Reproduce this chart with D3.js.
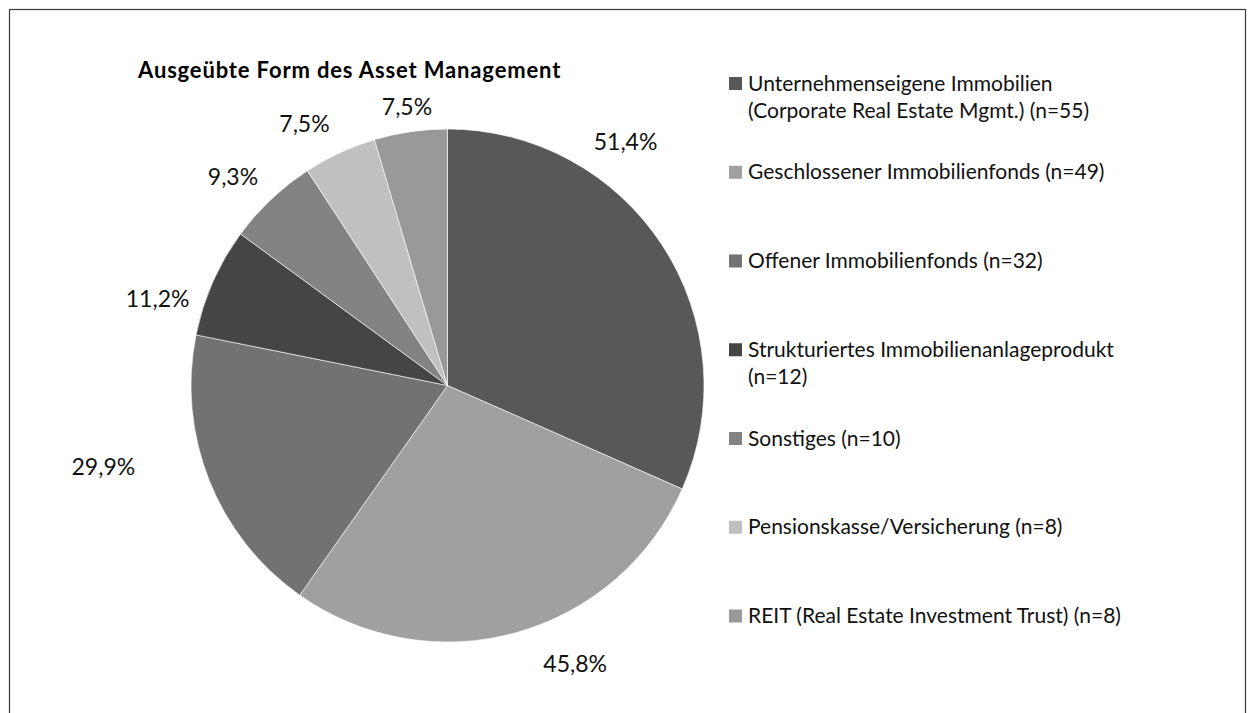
<!DOCTYPE html>
<html>
<head>
<meta charset="utf-8">
<script src="https://cdn.jsdelivr.net/npm/d3@7"></script>
<style>
  body { margin: 0; background: #fff; }
  svg { display: block; font-family: Lato, "Open Sans", sans-serif; }
</style>
</head>
<body>
<svg id="chart"></svg>
<script>
// data
const categories = [
  'Unternehmenseigene Immobilien|(Corporate Real Estate Mgmt.) (n=55)',
  'Geschlossener Immobilienfonds (n=49)',
  'Offener Immobilienfonds (n=32)',
  'Strukturiertes Immobilienanlageprodukt|(n=12)',
  'Sonstiges (n=10)',
  'Pensionskasse/Versicherung (n=8)',
  'REIT (Real Estate Investment Trust) (n=8)'
];
const counts = [55, 49, 32, 12, 10, 8, 8];
const percentLabels = ['51,4%', '45,8%', '29,9%', '11,2%', '9,3%', '7,5%', '7,5%'];
const colors = ['#585858', '#a0a0a0', '#727272', '#454545', '#838383', '#c0c0c0', '#999999'];

const width = 1251;
const height = 713;
const cx = 447.5;
const cy = 385.5;
const radius = 256.5;

// label placement like excel's "best fit": angle shift (deg) and distance beyond the rim
const labelNudge = [[-20.7, 45], [-9.1, 50], [8.5, 97], [-7.2, 46], [-2.3, 43], [-3.8, 42], [0, 25]];

const svg = d3.select('#chart').attr('width', width).attr('height', height);

// outer frame, bottom edge runs off the picture
svg.append('rect')
  .attr('x', 9.5).attr('y', 9.5)
  .attr('width', 1236).attr('height', 720)
  .attr('fill', 'none')
  .attr('stroke', '#3a3a3a')
  .attr('stroke-width', 1.2);

svg.append('text')
  .attr('x', 138)
  .attr('y', 78)
  .style('font-weight', 'bold')
  .style('font-size', '22px')
  .style('letter-spacing', '0.85px')
  .attr('fill', '#000')
  .text('Ausgeübte Form des Asset Management');

const pie = d3.pie().sort(null).value((d) => d);
const arcs = pie(counts);
const arc = d3.arc().innerRadius(0).outerRadius(radius);

const g = svg.append('g').attr('transform', 'translate(' + cx + ',' + cy + ')');

g.selectAll('path')
  .data(arcs)
  .enter()
  .append('path')
  .attr('d', arc)
  .attr('fill', (d, i) => colors[i])
  .attr('stroke', '#fff')
  .attr('stroke-width', 0.6);

g.selectAll('.pct')
  .data(arcs)
  .enter()
  .append('text')
  .attr('class', 'pct')
  .attr('text-anchor', 'middle')
  .attr('dy', '0.36em')
  .style('font-size', '23px')
  .attr('fill', '#111')
  .attr('transform', (d, i) => {
    const a = (d.startAngle + d.endAngle) / 2 + labelNudge[i][0] * Math.PI / 180;
    const r = radius + labelNudge[i][1];
    return 'translate(' + (r * Math.sin(a)) + ',' + (-r * Math.cos(a)) + ')';
  })
  .text((d, i) => percentLabels[i]);

// legend
const legendY = d3.scalePoint()
  .domain(d3.range(categories.length))
  .range([83.5, 616]);

const legend = svg.append('g');
const item = legend.selectAll('g')
  .data(categories)
  .enter()
  .append('g')
  .attr('transform', (d, i) => 'translate(729,' + legendY(i) + ')');

item.append('rect')
  .attr('x', 0).attr('y', -6.5)
  .attr('width', 13).attr('height', 13)
  .attr('fill', (d, i) => colors[i]);

item.append('text')
  .attr('x', 19)
  .attr('y', 7)
  .style('font-size', '21px')
  .attr('fill', '#111')
  .selectAll('tspan')
  .data((d) => d.split('|'))
  .enter()
  .append('tspan')
  .attr('x', 19)
  .attr('dy', (d, i) => (i === 0 ? 0 : 27))
  .text((d) => d);
</script>
</body>
</html>
